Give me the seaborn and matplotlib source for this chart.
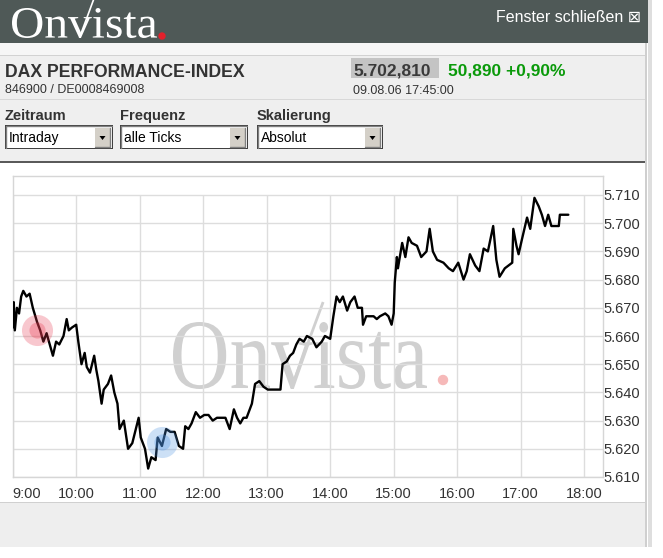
import numpy as np
import pandas as pd
import matplotlib
matplotlib.use("Agg")
import matplotlib.pyplot as plt
import seaborn as sns
from matplotlib.patches import Rectangle, Circle, PathPatch, Polygon
from matplotlib.textpath import TextPath
from matplotlib.font_manager import FontProperties
from matplotlib.transforms import Affine2D

# DAX intraday ticks, 09.08.06
tick_times = [
    "09:00", "09:01", "09:02", "09:04", "09:06", "09:08", "09:10", "09:13", "09:16", "09:19",
    "09:23", "09:26", "09:29", "09:32", "09:35", "09:38", "09:41", "09:44", "09:48", "09:51",
    "09:53", "09:56", "10:00", "10:02", "10:05", "10:08", "10:10", "10:13", "10:17", "10:19",
    "10:21", "10:24", "10:26", "10:30", "10:33", "10:36", "10:39", "10:41", "10:45", "10:49",
    "10:53", "10:57", "10:59", "11:01", "11:05", "11:08", "11:11", "11:15", "11:17", "11:21",
    "11:25", "11:29", "11:33", "11:37", "11:41", "11:43", "11:46", "11:49", "11:53", "11:57",
    "12:01", "12:05", "12:09", "12:13", "12:17", "12:21", "12:25", "12:29", "12:32", "12:35",
    "12:38", "12:41", "12:46", "12:49", "12:53", "12:57", "13:01", "13:05", "13:10", "13:13",
    "13:15", "13:19", "13:22", "13:25", "13:28", "13:31", "13:35", "13:38", "13:43", "13:47",
    "13:52", "13:55", "14:00", "14:03", "14:06", "14:09", "14:12", "14:16", "14:19", "14:23",
    "14:26", "14:30", "14:31", "14:34", "14:38", "14:41", "14:44", "14:47", "14:52", "14:55",
    "14:58", "15:00", "15:01", "15:03", "15:04", "15:08", "15:11", "15:14", "15:17", "15:22",
    "15:26", "15:31", "15:34", "15:37", "15:41", "15:47", "15:52", "15:56", "16:01", "16:06",
    "16:09", "16:12", "16:17", "16:21", "16:25", "16:29", "16:34", "16:37", "16:40", "16:45",
    "16:52", "16:53", "16:56", "16:58", "17:01", "17:06", "17:09", "17:13", "17:17", "17:20",
    "17:23", "17:26", "17:29", "17:36", "17:37", "17:45",
]
tick_prices = [
    5663, 5672, 5662, 5670, 5668, 5674, 5676, 5674, 5675, 5670,
    5665, 5662, 5658, 5661, 5657, 5653, 5658, 5657, 5660, 5666,
    5662, 5663, 5664, 5658, 5650, 5654, 5649, 5647, 5653, 5648,
    5644, 5636, 5641, 5643, 5646, 5640, 5636, 5627, 5630, 5620,
    5622, 5628, 5631, 5624, 5620, 5613, 5617, 5616, 5624, 5621,
    5627, 5626, 5626, 5621, 5620, 5628, 5627, 5629, 5633, 5631,
    5632, 5632, 5630, 5631, 5631, 5631, 5627, 5634, 5631, 5629,
    5631, 5631, 5636, 5643, 5644, 5642, 5641, 5641, 5641, 5641,
    5650, 5651, 5653, 5654, 5657, 5659, 5658, 5660, 5659, 5656,
    5658, 5660, 5659, 5667, 5674, 5672, 5674, 5669, 5672, 5674,
    5670, 5670, 5664, 5667, 5667, 5667, 5666, 5667, 5668, 5667,
    5664, 5668, 5679, 5688, 5684, 5693, 5688, 5695, 5693, 5692,
    5688, 5690, 5698, 5690, 5687, 5686, 5684, 5683, 5686, 5680,
    5683, 5689, 5685, 5683, 5691, 5690, 5699, 5687, 5681, 5684,
    5686, 5698, 5692, 5689, 5694, 5702, 5698, 5709, 5706, 5703,
    5699, 5703, 5699, 5699, 5703, 5703,
]

# markierte Punkte im Chart
marker_times = ["09:23", "11:21"]
marker_prices = [5662, 5622.5]
marker_colors = ["#e8384f", "#4a90e2"]

hour_ticks = list(range(9, 19))
hour_labels = [f"{h}:00" for h in hour_ticks]
price_ticks = list(range(5610, 5711, 10))
price_labels = [f"{p / 1000:.3f}" for p in price_ticks]

# Kopfdaten
index_name = "DAX PERFORMANCE-INDEX"
index_ids = "846900 / DE0008469008"
last_price = "5.702,810"
change_text = "50,890 +0,90%"
stamp = "09.08.06 17:45:00"
dropdowns = [("Zeitraum", "Intraday"), ("Frequenz", "alle Ticks"), ("Skalierung", "Absolut")]


def to_hours(s):
    return int(s[:2]) + int(s[3:]) / 60


df = pd.DataFrame({"t": [to_hours(s) for s in tick_times], "kurs": tick_prices})

sns.set_style("white")
plt.rcParams["font.family"] = ["Liberation Sans", "DejaVu Sans"]

W, H = 663, 558
fig = plt.figure(figsize=(W / 100, H / 100), dpi=100, facecolor="white")

# Hintergrund in Pixelkoordinaten
bg = fig.add_axes([0, 0, 1, 1], zorder=0)
bg.set_xlim(0, W)
bg.set_ylim(H, 0)
bg.axis("off")


def rect(x, y, w, h, color, **kw):
    bg.add_patch(Rectangle((x, y), w, h, facecolor=color, edgecolor="none", **kw))


rect(0, 0, 648, 43, "#4f5957")
rect(0, 43, 647, 12, "#f6f6f6")
rect(0, 55, 647, 107, "#efefef")
rect(0, 55, 647, 1, "#d2d2d2")
rect(0, 99, 647, 1, "#d8d8d8")
rect(0, 161, 645, 2, "#5a5a5a")
rect(0, 163, 645, 339, "white")
rect(0, 502, 645, 1, "#d0d0d0")
rect(0, 503, 645, 44, "#eeeeee")
rect(645, 43, 2, 504, "#cfcfcf")
rect(648, 0, 4, 547, "#dedede")


def logo(x0, y0, x1, y1, color, arm_h, lw):
    fp = FontProperties(family="Liberation Serif")
    tp = TextPath((0, 0), "Onvista", size=1, prop=fp)
    bb = tp.get_extents()
    sx = (x1 - x0) / bb.width
    sy = (y1 - y0) / bb.height
    tr = Affine2D().translate(-bb.x0, -bb.y0).scale(sx, -sy).translate(x0, y1)
    bg.add_patch(PathPatch(tr.transform_path(tp), facecolor=color, edgecolor="none"))
    on_r = TextPath((0, 0), "On", size=1, prop=fp).get_extents().x1
    onv_r = TextPath((0, 0), "Onv", size=1, prop=fp).get_extents().x1
    vx = x0 + ((on_r + onv_r) / 2 - bb.x0) * sx
    base = y1 - (0 - bb.y0) * sy
    bg.plot([vx, vx + 0.37 * arm_h], [base, base - arm_h], color=color, lw=lw,
            solid_capstyle="butt")
    return vx


logo(12, 8, 157, 38, "white", 40, 1.2)
bg.add_patch(Circle((162, 36), 3, color="#e3202b"))
bg.text(641, 22, "Fenster schließen ⊠", color="white", fontsize=11.5, ha="right",
        va="baseline")

bg.text(5, 77, index_name, fontsize=12.7, fontweight="bold", color="#333333", va="baseline")
bg.text(5, 93, index_ids, fontsize=9, color="#333333", va="baseline")
rect(351, 58, 88, 20, "#c4c4c4")
bg.text(353, 75.5, last_price, fontsize=12.5, fontweight="bold", color="#3a3a3a", va="baseline")
bg.text(448, 76, change_text, fontsize=12.5, fontweight="bold", color="#0a9a0a", va="baseline")
bg.text(353, 94, stamp, fontsize=9, color="#333333", va="baseline")

box_x = [5, 120, 257]
box_w = [108, 128, 126]
for (lab, val), bx, bw in zip(dropdowns, box_x, box_w):
    bg.text(bx, 120, lab, fontsize=10.5, fontweight="bold", color="#333333", va="baseline")
    rect(bx, 125, bw, 24, "#404040")
    rect(bx + 2, 127, bw - 3, 21, "#ffffff")
    bg.plot([bx + 1, bx + 1, bx + bw - 1], [148, 126, 126], color="#808080", lw=1)
    bg.text(bx + 4, 142, val, fontsize=10, color="black", va="baseline")
    rect(bx + bw - 18, 128, 15, 19, "#d4d0c8")
    bg.plot([bx + bw - 18, bx + bw - 3, bx + bw - 3], [147, 147, 128], color="#808080", lw=1)
    tx = bx + bw - 10.5
    bg.add_patch(Polygon([[tx - 3, 136], [tx + 3, 136], [tx, 140]], closed=True,
                         facecolor="black", edgecolor="none"))

# Wasserzeichen
logo(173, 322, 427, 389, "#d0d0d0", 86, 2)
bg.add_patch(Circle((443, 380), 4.5, color="#f6b9b9"))

# Chart
px_hour = 63.5
px_pt = 2.82
ax = fig.add_axes([12.7 / W, (H - 477) / H, (603 - 12.7) / W, (477 - 176) / H], zorder=2)
ax.set_facecolor("none")
x_max = 9 + (603 - 12.7) / px_hour
y_max = 5610 + (477 - 176) / px_pt
ax.set_xlim(9, x_max)
ax.set_ylim(5610, y_max)

grid_c = "#dddddd"
for p in price_ticks:
    ax.axhline(p, color=grid_c, lw=1, zorder=1)
ax.vlines(hour_ticks, 5610, 5710, color=grid_c, lw=1, zorder=1)

sns.lineplot(data=df, x="t", y="kurs", ax=ax, color="black", lw=1.7,
             estimator=None, sort=False, zorder=3)

mx = [to_hours(s) for s in marker_times]
for x, y, c in zip(mx, marker_prices, marker_colors):
    ax.scatter([x], [y], s=500, color=c, alpha=0.28, linewidths=0, zorder=4)
    ax.scatter([x], [y], s=135, color=c, alpha=0.3, linewidths=0, zorder=5)

for s in ax.spines.values():
    s.set_color("#d6d6d6")
    s.set_linewidth(1)

ax.set_xlabel("")
ax.set_ylabel("")
ax.set_xticks(hour_ticks)
ax.set_xticklabels(hour_labels)
ax.get_xticklabels()[0].set_horizontalalignment("left")
ax.yaxis.tick_right()
ax.set_yticks(price_ticks)
ax.set_yticklabels(price_labels)
ax.tick_params(axis="x", length=0, pad=7, labelsize=10.5, labelcolor="#333333")
ax.tick_params(axis="y", length=0, pad=0, labelsize=10.5, labelcolor="#333333")
ax.grid(False)

fig.savefig("out.png", dpi=100, facecolor="white")
